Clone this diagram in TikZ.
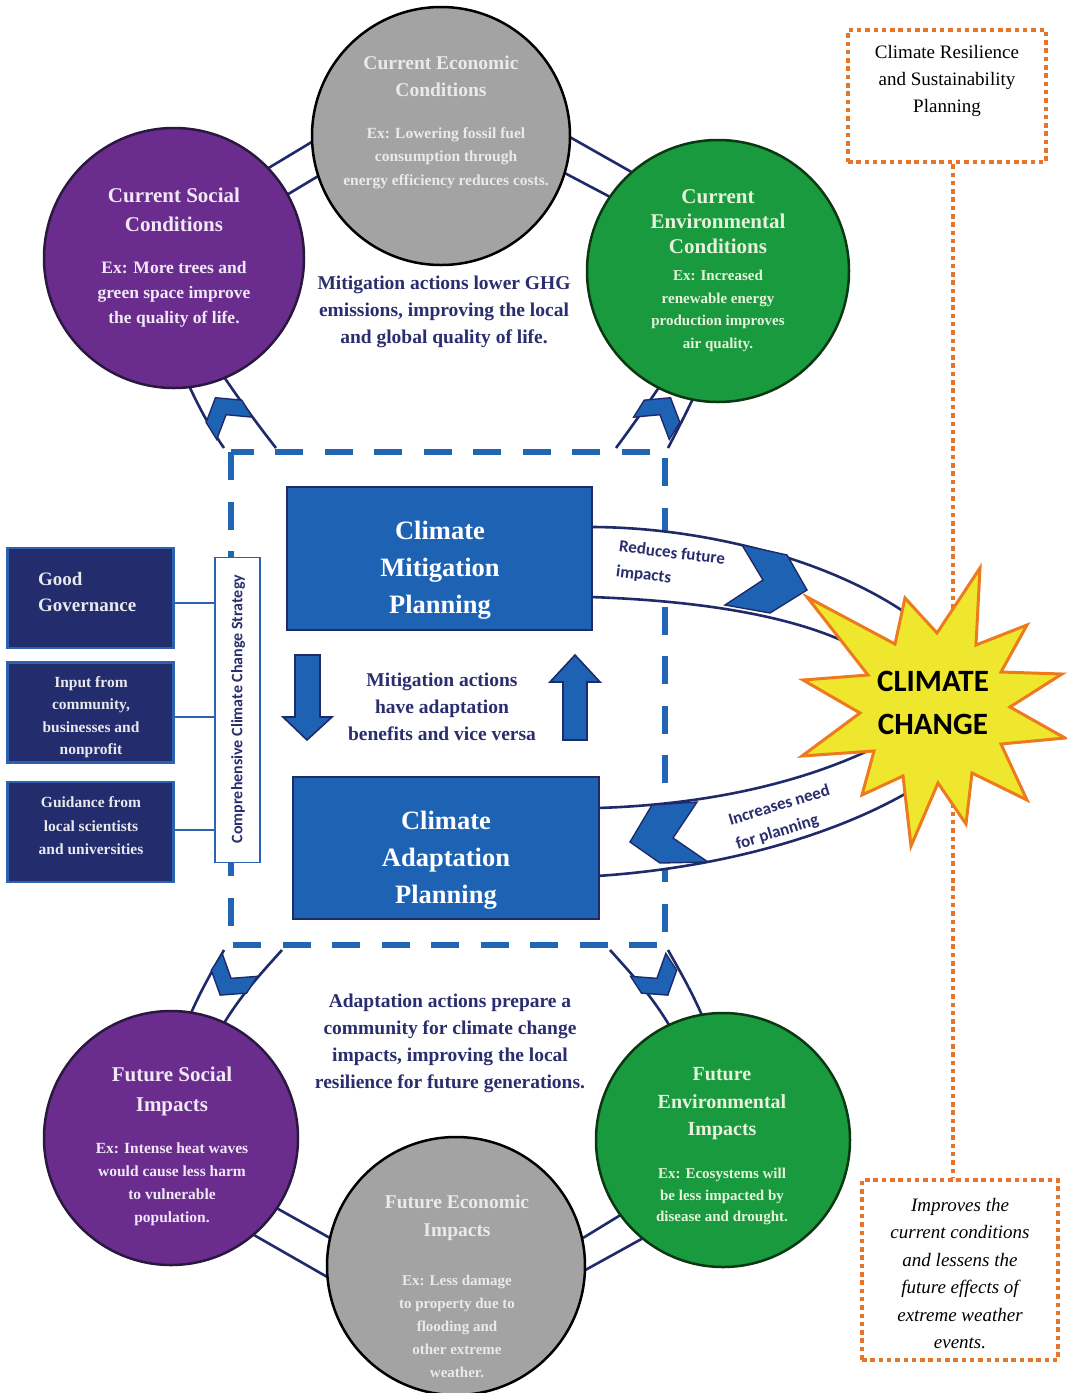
\documentclass[tikz,border=0pt]{standalone}
\usepackage{fontspec}
\setmainfont{Liberation Serif}
\newfontfamily\calib{Carlito}
\definecolor{navy}{HTML}{1F2A6B}
\definecolor{navytxt}{HTML}{2B2E6E}
\definecolor{bluef}{HTML}{1E62B4}
\definecolor{purp}{HTML}{6A2D8E}
\definecolor{purpline}{HTML}{2A1840}
\definecolor{grayc}{HTML}{A3A3A3}
\definecolor{greenc}{HTML}{1A9A3E}
\definecolor{greenline}{HTML}{0B3812}
\definecolor{starfill}{HTML}{EFE72E}
\definecolor{starline}{HTML}{EE7A1E}
\definecolor{dotor}{HTML}{E8742C}
\definecolor{boxnavy}{HTML}{232C6C}
\definecolor{boxblue}{HTML}{2C62B0}
\definecolor{dashblue}{HTML}{2166B3}
\definecolor{lgray}{HTML}{EAEAEA}
\definecolor{ltpurp}{HTML}{F0E8F5}
\definecolor{ltgreen}{HTML}{E6F2DC}
\definecolor{ltbox}{HTML}{E8E8EE}
\newcommand{\fsz}[2]{\fontsize{#1}{#2}\selectfont}
\begin{document}
\begin{tikzpicture}[x=1pt,y=-1pt,
  band/.style={draw=navy, line width=2.6pt},
  chev/.style={fill=bluef, draw=navy, line width=1.4pt, line join=miter},
  bubble/.style={circle, line width=2.5pt, inner sep=0pt},
  plan/.style={rectangle, fill=bluef, draw=navy, line width=2.5pt, inner sep=0pt},
  lbox/.style={rectangle, fill=boxnavy, draw=boxblue, line width=2.5pt, minimum width=166pt, minimum height=100pt, inner sep=0pt},
  conn/.style={draw=boxblue, line width=2.5pt},
  obox/.style={rectangle, draw=dotor, line width=4.5pt, dash pattern=on 4.5pt off 3.8pt, inner sep=0pt},
  odot/.style={draw=dotor, line width=4.5pt, dash pattern=on 4.5pt off 3.8pt},
  dbox/.style={draw=dashblue, line width=6pt, dash pattern=on 28pt off 21.5pt},
  txt/.style={align=center, inner sep=0pt},
  bigarrow/.style={fill=bluef, draw=navy, line width=1.6pt, line join=miter}
]
\useasboundingbox (0,0) rectangle (1067,1393);
\fill[white] (0,0) rectangle (1067,1393);

% ---- ring bands between circles ----
\draw[band] (232,190) -- (340,125);
\draw[band] (250,217) -- (345,160);
\draw[band] (545,123) -- (665,191);
\draw[band] (540,160) -- (650,218);
\draw[band] (255,1196) -- (355,1252);
\draw[band] (240,1227) -- (350,1290);
\draw[band] (560,1252) -- (650,1197);
\draw[band] (560,1284) -- (665,1226);
% side bands
\draw[band] (182,370) .. controls (195,400) and (208,425) .. (224,448);
\draw[band] (218,368) .. controls (238,398) and (258,425) .. (276,448);
\draw[band] (706,370) .. controls (693,400) and (680,425) .. (668,448);
\draw[band] (672,368) .. controls (652,398) and (633,425) .. (616,448);
\draw[band] (224,950) .. controls (210,975) and (195,1000) .. (180,1040);
\draw[band] (282,950) .. controls (255,980) and (232,1005) .. (212,1045);
\draw[band] (610,950) .. controls (637,980) and (660,1005) .. (680,1045);
\draw[band] (668,950) .. controls (682,975) and (697,1000) .. (712,1040);

% ---- circles ----
\node[bubble, fill=grayc, draw=black, minimum size=258pt] (ce) at (441,136) {};
\node[bubble, fill=purp, draw=purpline, minimum size=260pt] (cs) at (174,258) {};
\node[bubble, fill=greenc, draw=greenline, minimum size=262pt] (cv) at (718,271) {};
\node[bubble, fill=purp, draw=purpline, minimum size=254pt] (fs) at (171,1138) {};
\node[bubble, fill=grayc, draw=black, minimum size=258pt] (fe) at (456,1266) {};
\node[bubble, fill=greenc, draw=greenline, minimum size=254pt] (fv) at (723,1140) {};

% circle texts
\node[txt, text=lgray, font=\fsz{19.5}{27}\bfseries] (ceT) at (441,76) {Current Economic\\Conditions};
\node[txt, text=lgray, font=\fsz{15.5}{23.5}\bfseries] (ceB) at (446,158) {Ex: Lowering fossil fuel\\consumption through\\energy efficiency reduces costs.};
\node[txt, text=ltpurp, font=\fsz{21}{29}\bfseries] (csT) at (174,210) {Current Social\\Conditions};
\node[txt, text=ltpurp, font=\fsz{17.5}{25}\bfseries] (csB) at (174,294) {Ex: More trees and\\green space improve\\the quality of life.};
\node[txt, text=ltgreen, font=\fsz{21}{25}\bfseries] (cvT) at (718,222) {Current\\Environmental\\Conditions};
\node[txt, text=ltgreen, font=\fsz{15}{22.7}\bfseries] (cvB) at (718,311) {Ex: Increased\\renewable energy\\production improves\\air quality.};
\node[txt, text=ltpurp, font=\fsz{21}{30}\bfseries] (fsT) at (172,1091) {Future Social\\Impacts};
\node[txt, text=ltpurp, font=\fsz{15.5}{23}\bfseries] (fsB) at (172,1184) {Ex: Intense heat waves\\would cause less harm\\to vulnerable\\population.};
\node[txt, text=lgray, font=\fsz{19.5}{28}\bfseries] (feT) at (457,1218) {Future Economic\\Impacts};
\node[txt, text=lgray, font=\fsz{15}{23}\bfseries] (feB) at (457,1326) {Ex: Less damage\\to property due to\\flooding and\\other extreme\\weather.};
\node[txt, text=ltgreen, font=\fsz{20}{27.5}\bfseries] (fvT) at (722,1104) {Future\\Environmental\\Impacts};
\node[txt, text=ltgreen, font=\fsz{15}{21.5}\bfseries] (fvB) at (722,1196.5) {Ex: Ecosystems will\\be less impacted by\\disease and drought.};

% ---- central dashed box ----
\draw[dbox] (231,452) rectangle (665,945);

% big bands to climate change (white filled, over the dashed box)
\fill[white] (590,527) .. controls (720,527) and (870,570) .. (945,645) -- (870,655)
   .. controls (800,612) and (680,600) .. (590,597) -- cycle;
\fill[white] (597,808) .. controls (700,805) and (800,785) .. (880,745) -- (920,785)
   .. controls (840,835) and (720,868) .. (597,876) -- cycle;
\draw[band] (590,527) .. controls (720,527) and (870,570) .. (945,645);
\draw[band] (590,597) .. controls (680,600) and (800,612) .. (870,655);
\draw[band] (597,808) .. controls (700,805) and (800,785) .. (880,745);
\draw[band] (597,876) .. controls (720,868) and (840,835) .. (920,785);

% small chevrons
\foreach \cx/\cy/\ang in {225/413/122, 661/413/58, 230/980/-123, 658/980/-57}{
  \filldraw[chev, shift={(\cx,\cy)}, rotate=\ang] (-18,21) -- (2,21) -- (18,0) -- (2,-21) -- (-18,-21) -- (-2,0) -- cycle;
}
% big chevrons
\filldraw[chev] (742,545) -- (787,555) -- (807,590) -- (770,613) -- (725,605) -- (763,580) -- cycle;
\filldraw[chev] (697,802) -- (652,805) -- (630,842) -- (660,863) -- (708,862) -- (673,838) -- cycle;

% planning boxes
\node[plan, minimum width=305pt, minimum height=143pt] (mit) at (439.5,558.5) {};
\node[plan, minimum width=306pt, minimum height=142pt] (ada) at (446,848) {};
\node[txt, text=white, font=\fsz{26.5}{37}\bfseries] (mitT) at (440,570) {Climate\\Mitigation\\Planning};
\node[txt, text=white, font=\fsz{26.5}{37}\bfseries] (adaT) at (446,860) {Climate\\Adaptation\\Planning};

% middle arrows
\filldraw[bigarrow] (295,655) -- (320,655) -- (320,717) -- (332,717) -- (307,740) -- (283,717) -- (295,717) -- cycle;
\filldraw[bigarrow] (563,740) -- (587,740) -- (587,682) -- (600,682) -- (575,655) -- (550,682) -- (563,682) -- cycle;

% navy texts
\node[txt, text=navytxt, font=\fsz{19.5}{27}\bfseries] (mt) at (444,312) {Mitigation actions lower GHG\\emissions, improving the local\\and global quality of life.};
\node[txt, text=navytxt, font=\fsz{19.5}{27}\bfseries] (mvt) at (442,707) {Mitigation actions\\have adaptation\\benefits and vice versa};
\node[txt, text=navytxt, font=\fsz{19.5}{27}\bfseries] (at) at (450,1043.5) {Adaptation actions prepare a\\community for climate change\\impacts, improving the local\\resilience for future generations.};

% band labels
\node[align=left, inner sep=0pt, text=navytxt, font=\calib\fsz{17}{25}\bfseries, rotate=-7] (rfi) at (670.5,566) {Reduces future\\impacts};
\node[align=left, inner sep=0pt, text=navytxt, font=\calib\fsz{17}{25}\bfseries, rotate=17] (ifp) at (783,818) {Increases need\\for planning};

% ---- left side ----
\node[rectangle, fill=white, draw=boxblue, line width=1.2pt, minimum width=45pt, minimum height=305pt, inner sep=0pt] (strat) at (237.5,710) {};
\node[inner sep=0pt, text=navytxt, font=\calib\fsz{16}{19}\bfseries, rotate=90] (stratT) at (238,709) {Comprehensive Climate Change Strategy};
\node[lbox] (gg) at (90.5,598) {};
\node[lbox] (inp) at (90.5,712.5) {};
\node[lbox] (gui) at (90.5,832) {};
\node[anchor=west, align=left, inner sep=0pt, text=ltbox, font=\fsz{19}{26}\bfseries] (ggT) at (38,592) {Good\\Governance};
\node[txt, text=ltbox, font=\fsz{15.5}{22.5}\bfseries] (inpT) at (91,717) {Input from\\community,\\businesses and\\nonprofit};
\node[txt, text=ltbox, font=\fsz{15.5}{23.5}\bfseries] (guiT) at (91,826) {Guidance from\\local scientists\\and universities};
\draw[conn] ([yshift=-5pt]gg.east) -- ([yshift=-5pt]gg.east -| strat.west);
\draw[conn] ([yshift=-4.5pt]inp.east) -- ([yshift=-4.5pt]inp.east -| strat.west);
\draw[conn] ([yshift=2pt]gui.east) -- ([yshift=2pt]gui.east -| strat.west);

% ---- orange dotted ----
\node[obox, minimum width=198pt, minimum height=132pt] (crsp) at (947,96) {};
\node[obox, minimum width=196pt, minimum height=180pt] (imp) at (960,1270) {};
\coordinate (ox) at (953,0);
\draw[odot] (crsp.south -| ox) -- (imp.north -| ox);
\node[txt, text=black, font=\fsz{19}{27}] (crspT) at (947,81) {Climate Resilience\\and Sustainability\\Planning};
\node[txt, text=black, font=\fsz{19}{27.4}\itshape] (impT) at (960,1273.5) {Improves the\\current conditions\\and lessens the\\future effects of\\extreme weather\\events.};

% ---- climate change star ----
\filldraw[fill=starfill, draw=starline, line width=3pt, line join=miter]
 (980,568) -- (976,645) -- (1027,625) -- (1001,672) -- (1062,674) -- (1010,707) -- (1065,738) -- (1001,744)
 -- (1027,800) -- (972,773) -- (966,824) -- (938,783) -- (911,846) -- (903,776) -- (862,795) -- (874,751)
 -- (802,756) -- (860,713) -- (803,680) -- (868,675) -- (807,597) -- (895,644) -- (905,598) -- (937,633) -- cycle;
\node[txt, text=black, font=\calib\fsz{31}{43}\bfseries] (cc) at (933,703) {CLIMATE\\CHANGE};
\end{tikzpicture}
\end{document}
